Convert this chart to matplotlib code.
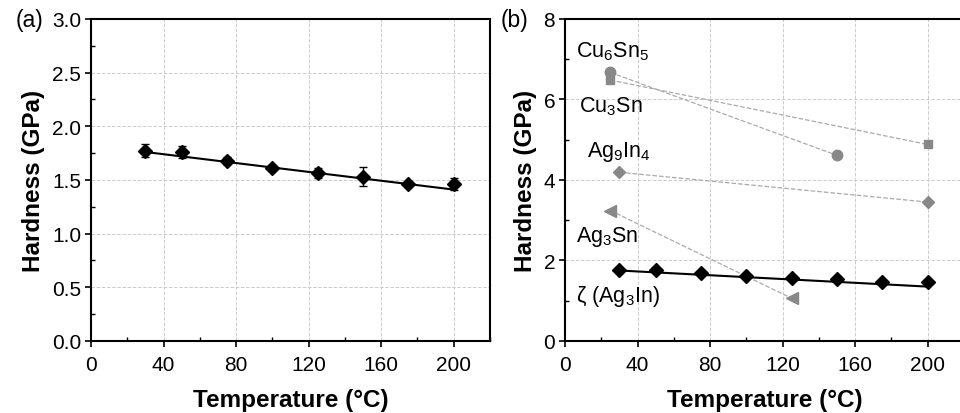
import numpy as np
import matplotlib.pyplot as plt
from matplotlib.ticker import MultipleLocator

plt.rcParams['font.family'] = ['Liberation Sans', 'DejaVu Sans']
plt.rcParams['mathtext.fontset'] = 'custom'
plt.rcParams['mathtext.rm'] = 'Liberation Sans'
plt.rcParams['mathtext.it'] = 'Liberation Sans'

# zeta (Ag3In) hardness vs temperature
temp = [30, 50, 75, 100, 125, 150, 175, 200]
hard = [1.77, 1.76, 1.68, 1.615, 1.565, 1.53, 1.46, 1.46]
hard_err = [0.06, 0.06, 0.035, 0.02, 0.05, 0.09, 0.02, 0.055]
# linear fit lines as drawn
fit_t = [30, 200]
fit_a = [1.76, 1.41]
fit_b = [1.75, 1.35]

# other phases (panel b)
cu6sn5_t = [25, 150]
cu6sn5_h = [6.67, 4.61]
cu3sn_t = [25, 200]
cu3sn_h = [6.48, 4.88]
ag9in4_t = [30, 200]
ag9in4_h = [4.19, 3.45]
ag3sn_t = [25, 125]
ag3sn_h = [3.24, 1.06]

fig = plt.figure(figsize=(9.6, 4.14), dpi=100)
ax1 = fig.add_axes([0.0948, 0.174, 0.4156, 0.778])
ax2 = fig.add_axes([0.5885, 0.174, 0.4156, 0.778])

def style(ax, ymax, ymaj, ymin):
    ax.set_xlim(0, 220)
    ax.set_ylim(0, ymax)
    ax.xaxis.set_major_locator(MultipleLocator(40))
    ax.xaxis.set_minor_locator(MultipleLocator(20))
    ax.yaxis.set_major_locator(MultipleLocator(ymaj))
    ax.yaxis.set_minor_locator(MultipleLocator(ymin))
    ax.tick_params(which='major', direction='out', length=4, width=1.2, labelsize=15)
    ax.tick_params(axis='x', which='major', pad=6)
    ax.tick_params(axis='y', which='major', pad=3)
    ax.tick_params(which='minor', direction='in', length=3, width=1.0)
    ax.grid(True, which='major', ls='--', color='#cccccc', lw=0.7)
    ax.set_axisbelow(True)
    for s in ax.spines.values():
        s.set_linewidth(1.5)
    ax.set_xlabel('Temperature (°C)', fontsize=17.5, fontweight='bold', labelpad=10.5)
    ax.set_ylabel('Hardness (GPa)', fontsize=17.5, fontweight='bold', labelpad=5)

# panel a
ax1.errorbar(temp, hard, yerr=hard_err, fmt='D', color='black', ms=7, capsize=2.8, elinewidth=1, zorder=3)
ax1.plot(fit_t, fit_a, color='black', lw=1.5, zorder=2)
style(ax1, 3.0, 0.5, 0.25)
ax1.yaxis.set_major_formatter(plt.FormatStrFormatter('%.1f'))

# panel b
g = '#888888'
ax2.plot(cu6sn5_t, cu6sn5_h, ls='--', color='#aaaaaa', lw=0.9, marker='o', mfc=g, mec=g, ms=7.5)
ax2.plot(cu3sn_t, cu3sn_h, ls='--', color='#aaaaaa', lw=0.9, marker='s', mfc=g, mec=g, ms=6)
ax2.plot(ag9in4_t, ag9in4_h, ls='--', color='#aaaaaa', lw=0.9, marker='D', mfc=g, mec=g, ms=6)
ax2.plot(ag3sn_t, ag3sn_h, ls='--', color='#aaaaaa', lw=0.9, marker='<', mfc=g, mec=g, ms=9)
ax2.plot(temp, hard, 'D', color='black', ms=7, zorder=3)
ax2.plot(fit_t, fit_b, color='black', lw=1.5, zorder=2)
style(ax2, 8, 2, 1)

lab = dict(fontsize=15.5, va='center', ha='left')
ax2.text(6, 7.2, r'Cu$_6$Sn$_5$', **lab)
ax2.text(8, 5.85, r'Cu$_3$Sn', **lab)
ax2.text(12, 4.72, r'Ag$_9$In$_4$', **lab)
ax2.text(6, 2.6, r'Ag$_3$Sn', **lab)
ax2.text(6, 1.12, r'ζ (Ag$_3$In)', **lab)

fig.text(0.016, 0.95, '(a)', fontsize=16.5, va='center', ha='left')
fig.text(0.521, 0.95, '(b)', fontsize=16.5, va='center', ha='left')

fig.savefig('out.png', dpi=100)
